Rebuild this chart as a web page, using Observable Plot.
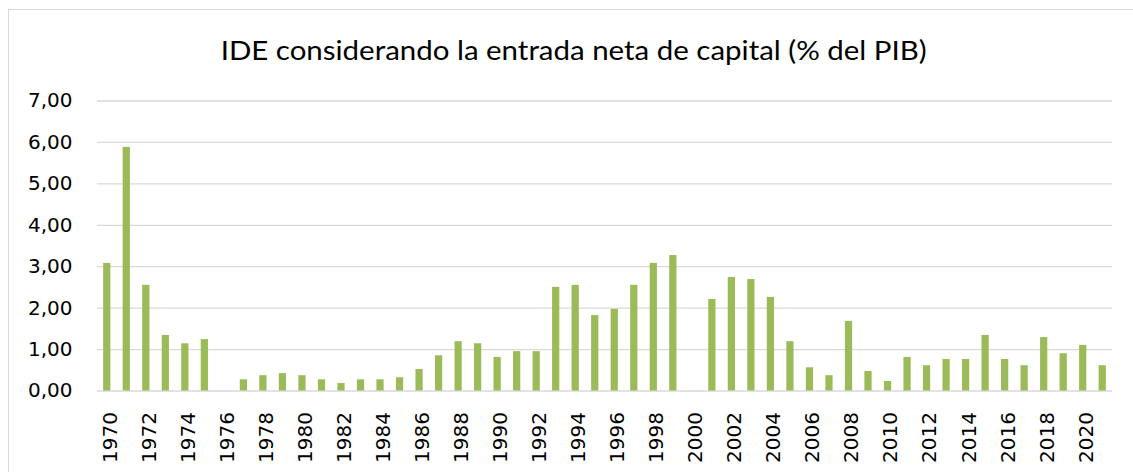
<!DOCTYPE html>
<html><head><meta charset="utf-8">
<script src="https://cdn.jsdelivr.net/npm/d3@7"></script>
<script src="https://cdn.jsdelivr.net/npm/@observablehq/plot@0.6"></script>
<style>
html,body{margin:0;padding:0;background:#fff;overflow:hidden;}
#wrap{position:relative;width:1133px;height:472px;overflow:hidden;}
#frame{position:absolute;left:8px;top:9px;width:1300px;height:700px;border:1px solid #d9d9d9;box-sizing:border-box;}
#chart{position:absolute;left:0;top:0;}
#chart svg text{font-family:"DejaVu Sans";}
#chart svg text.title{font-family:"Lato";}
</style></head><body>
<div id="wrap"><div id="frame"></div><div id="chart"></div></div>
<script>
const title = "IDE considerando la entrada neta de capital (% del PIB)";
const years = [1970,1971,1972,1973,1974,1975,1976,1977,1978,1979,
  1980,1981,1982,1983,1984,1985,1986,1987,1988,1989,
  1990,1991,1992,1993,1994,1995,1996,1997,1998,1999,
  2000,2001,2002,2003,2004,2005,2006,2007,2008,2009,
  2010,2011,2012,2013,2014,2015,2016,2017,2018,2019,
  2020,2021];
const values = [3.08,5.88,2.55,1.34,1.14,1.24,null,0.27,0.37,0.42,
  0.37,0.27,0.18,0.27,0.27,0.32,0.52,0.85,1.19,1.14,
  0.81,0.95,0.95,2.50,2.55,1.82,1.97,2.55,3.08,3.27,
  null,2.21,2.74,2.69,2.26,1.19,0.56,0.37,1.68,0.47,
  0.23,0.81,0.61,0.76,0.76,1.34,0.76,0.61,1.29,0.90,
  1.10,0.61];
const xTickYears = [1970,1972,1974,1976,1978,1980,1982,1984,1986,1988,
  1990,1992,1994,1996,1998,2000,2002,2004,2006,2008,2010,2012,2014,2016,2018,2020];
const yTicks = [0,1,2,3,4,5,6,7];

const data = years.map((y, i) => ({year: y, value: values[i]})).filter(d => d.value != null);

const chart = Plot.plot({
  width: 1133, height: 472,
  marginLeft: 97, marginRight: 21, marginTop: 100.5, marginBottom: 81.5,
  style: {background: "transparent", fontFamily: "'DejaVu Sans'", fontSize: "20px", color: "#000", overflow: "visible"},
  x: {type: "band", domain: years, paddingInner: 0.63, paddingOuter: 0.315, align: 0.5, round: false},
  y: {domain: [0, 7]},
  marks: [
    Plot.gridY(yTicks, {stroke: "#d9d9d9", strokeOpacity: 1, strokeWidth: 1.3}),
    Plot.barY(data, {x: "year", y: "value", fill: "#9bbb59"}),
    Plot.axisY(yTicks, {tickSize: 0, tickPadding: 25, tickFormat: d => d.toFixed(2).replace(".", ","), fontSize: 20, fill: "#000", label: null}),
    Plot.axisX(xTickYears, {tickSize: 0, tickRotate: -90, tickPadding: 21, dx: 3, tickFormat: d => String(d), fontSize: 20, fill: "#000", label: null})
  ]
});
document.getElementById("chart").appendChild(chart);
d3.select(chart).append("text")
  .attr("class", "title")
  .attr("x", 573.7).attr("y", 60)
  .attr("text-anchor", "middle")
  .attr("font-size", 26.5)
  .attr("fill", "#000")
  .attr("textLength", 706)
  .attr("lengthAdjust", "spacingAndGlyphs")
  .text(title);
</script>
</body></html>
